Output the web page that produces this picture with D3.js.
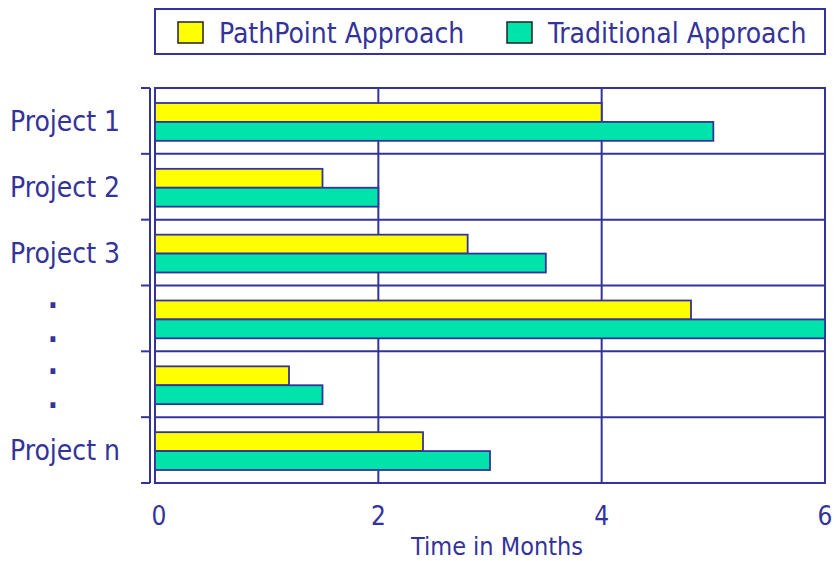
<!DOCTYPE html>
<html>
<head>
<meta charset="utf-8">
<script src="https://cdn.jsdelivr.net/npm/d3@7"></script>
<style>
  body { margin: 0; background: #fff; }
  text { font-family: "DejaVu Sans Condensed", "DejaVu Sans", sans-serif; font-stretch: condensed; fill: #333399; }
</style>
</head>
<body>
<svg width="838" height="561"></svg>
<script>
var projects = ["Project 1", "Project 2", "Project 3", ". .", ". .", "Project n"];
var series = ["PathPoint Approach", "Traditional Approach"];
var pathpoint = [4.0, 1.5, 2.8, 4.8, 1.2, 2.4];
var traditional = [5.0, 2.0, 3.5, 6.0, 1.5, 3.0];
var xTicks = [0, 2, 4, 6];

var ink = "#333399",
    colors = ["#ffff00", "#00e3aa"];

var svg = d3.select("svg");

var plotLeft = 155, plotRight = 825, plotTop = 88, plotBottom = 483;

var x = d3.scaleLinear().domain([0, 6]).range([plotLeft, plotRight]);
var y = d3.scaleBand().domain(d3.range(projects.length)).range([plotTop, plotBottom]);
var inner = d3.scaleBand().domain([0, 1]).range([15, y.bandwidth() - 13]);

// plot frame + grid
svg.append("rect")
    .attr("x", plotLeft).attr("y", plotTop)
    .attr("width", plotRight - plotLeft).attr("height", plotBottom - plotTop)
    .attr("fill", "none").attr("stroke", ink).attr("stroke-width", 2);

svg.append("g").selectAll("line")
    .data(xTicks.slice(1, -1))
    .enter().append("line")
    .attr("x1", function (d) { return x(d); }).attr("x2", function (d) { return x(d); })
    .attr("y1", plotTop).attr("y2", plotBottom)
    .attr("stroke", ink).attr("stroke-width", 2);

svg.append("g").selectAll("line")
    .data(d3.range(1, projects.length))
    .enter().append("line")
    .attr("x1", plotLeft).attr("x2", plotRight)
    .attr("y1", function (d) { return y(d); }).attr("y2", function (d) { return y(d); })
    .attr("stroke", ink).attr("stroke-width", 2);

// bars
var data = [];
projects.forEach(function (p, i) {
    data.push({ row: i, s: 0, v: pathpoint[i] });
    data.push({ row: i, s: 1, v: traditional[i] });
});

svg.append("g").selectAll("rect")
    .data(data)
    .enter().append("rect")
    .attr("x", x(0))
    .attr("y", function (d) { return y(d.row) + inner(d.s); })
    .attr("width", function (d) { return x(d.v) - x(0); })
    .attr("height", inner.bandwidth())
    .attr("fill", function (d) { return colors[d.s]; })
    .attr("stroke", ink).attr("stroke-width", 1.8);

// y axis (separate line with ticks to the left)
var yAxisG = svg.append("g");
yAxisG.append("line")
    .attr("x1", 150).attr("x2", 150).attr("y1", plotTop).attr("y2", plotBottom)
    .attr("stroke", ink).attr("stroke-width", 2);
yAxisG.selectAll(".tk")
    .data(d3.range(projects.length + 1))
    .enter().append("line")
    .attr("x1", 141).attr("x2", 150)
    .attr("y1", function (d) { return plotTop + d * y.step(); })
    .attr("y2", function (d) { return plotTop + d * y.step(); })
    .attr("stroke", ink).attr("stroke-width", 2);

// y labels
projects.forEach(function (p, i) {
    var cy = y(i) + y.bandwidth() / 2;
    if (p === ". .") {
        svg.append("text").attr("x", 53).attr("y", cy - 10).attr("text-anchor", "middle")
            .attr("font-size", 30).attr("font-weight", "bold").text(".");
        svg.append("text").attr("x", 53).attr("y", cy + 24).attr("text-anchor", "middle")
            .attr("font-size", 30).attr("font-weight", "bold").text(".");
    } else {
        svg.append("text").attr("x", 10).attr("y", cy + 10)
            .attr("font-size", 28).text(p);
    }
});

// x tick labels
svg.append("g").selectAll("text")
    .data(xTicks)
    .enter().append("text")
    .attr("x", function (d) { return x(d) + (d === 0 ? 4 : 0); })
    .attr("y", 525)
    .attr("text-anchor", "middle")
    .attr("font-size", 26)
    .text(function (d) { return d; });

svg.append("text")
    .attr("x", 497).attr("y", 555)
    .attr("text-anchor", "middle")
    .attr("font-size", 25)
    .text("Time in Months");

// legend
var legend = svg.append("g");
legend.append("rect")
    .attr("x", 155).attr("y", 9).attr("width", 670).attr("height", 45)
    .attr("fill", "#fff").attr("stroke", ink).attr("stroke-width", 2);

var legendX = [178, 507];
series.forEach(function (s, i) {
    legend.append("rect")
        .attr("x", legendX[i]).attr("y", 22).attr("width", 25).attr("height", 21)
        .attr("fill", colors[i]).attr("stroke", "#222").attr("stroke-width", 1.5);
    legend.append("text")
        .attr("x", legendX[i] + 41).attr("y", 43)
        .attr("font-size", 28)
        .text(s);
});
</script>
</body>
</html>
